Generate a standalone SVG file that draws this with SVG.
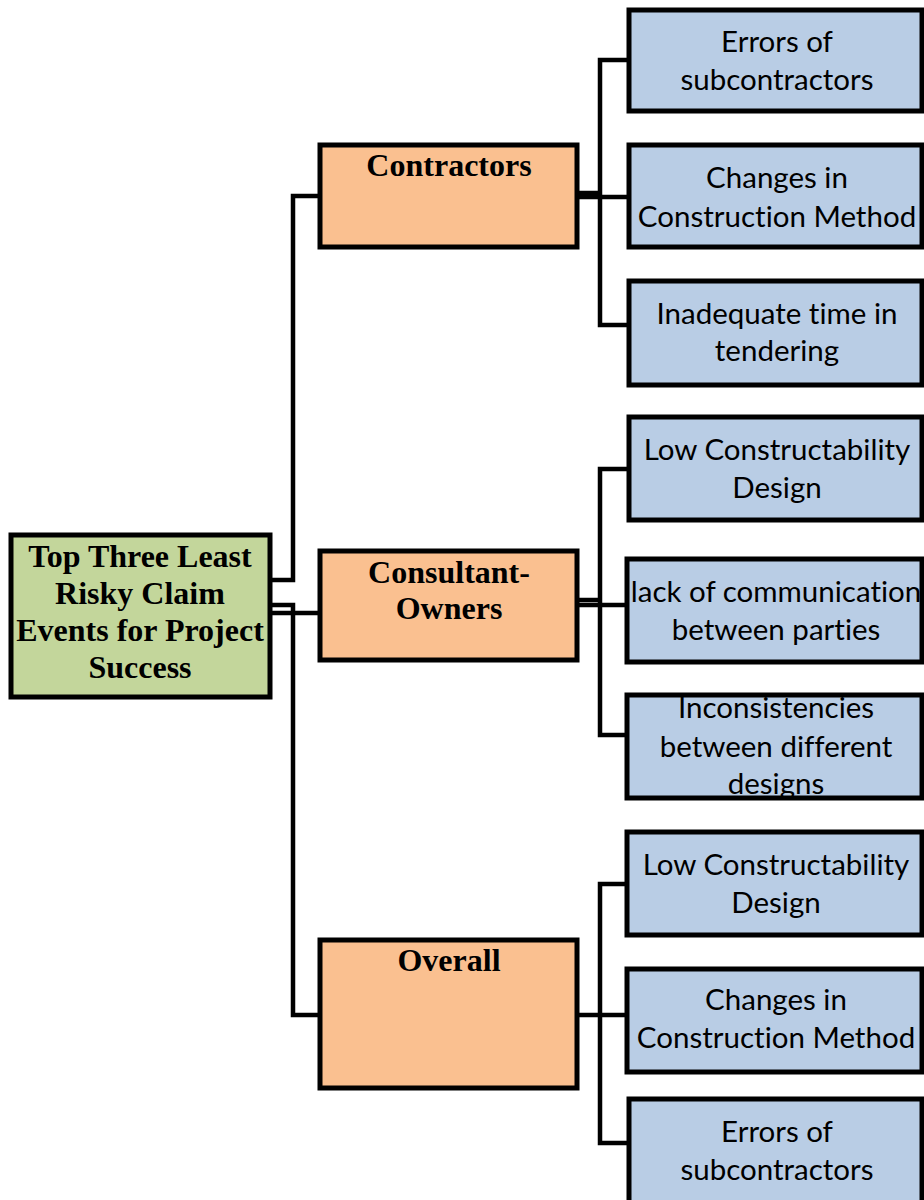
<svg xmlns="http://www.w3.org/2000/svg" width="924" height="1200" viewBox="0 0 924 1200">
  <style>
    .box { stroke: #000; stroke-width: 5; }
    .root { fill: #C3D69B; }
    .group { fill: #FAC090; }
    .leaf { fill: #B9CDE5; }
    .head { font-family: "Liberation Serif", "Times New Roman", serif; font-weight: bold; font-size: 32px; fill: #000; text-anchor: middle; }
    .item { font-family: Lato, "Liberation Sans", sans-serif; font-size: 29.5px; fill: #000; text-anchor: middle; font-variant-ligatures: none; }
    .wire { fill: none; stroke: #000; stroke-width: 4.5; stroke-linejoin: miter; }
  </style>

  <!-- connectors -->
  <g id="connectors">
    <path class="wire" d="M272,580 H293 V196 H318"/>
    <path class="wire" d="M272,605 H293 V1015 H318"/>
    <path class="wire" d="M272,613 H318"/>

    <path class="wire" d="M627,60 H600 V325 H627"/>
    <path class="wire" d="M579,193 H600"/>
    <path class="wire" d="M579,197 H627"/>

    <path class="wire" d="M627,469 H600 V735 H627"/>
    <path class="wire" d="M579,600 H600"/>
    <path class="wire" d="M579,605 H627"/>

    <path class="wire" d="M627,884 H600 V1143 H627"/>
    <path class="wire" d="M579,1015 H627"/>
  </g>

  <!-- root -->
  <g id="root">
    <rect class="box root" x="11" y="535" width="259" height="162"/>
    <text class="head" x="140" y="567">Top Three Least</text>
    <text class="head" x="140" y="604">Risky Claim</text>
    <text class="head" x="140" y="641">Events for Project</text>
    <text class="head" x="140" y="678">Success</text>
  </g>

  <!-- stakeholder groups -->
  <g id="contractors">
    <rect class="box group" x="320" y="145" width="257" height="102"/>
    <text class="head" x="449" y="176">Contractors</text>
  </g>
  <g id="consultant-owners">
    <rect class="box group" x="320" y="551" width="257" height="109"/>
    <text class="head" x="449" y="583">Consultant-</text>
    <text class="head" x="449" y="619">Owners</text>
  </g>
  <g id="overall">
    <rect class="box group" x="320" y="940" width="257" height="148"/>
    <text class="head" x="449" y="971">Overall</text>
  </g>

  <!-- claim events: contractors -->
  <g id="c-errors">
    <rect class="box leaf" x="629" y="10" width="293" height="101"/>
    <text class="item" x="777" y="52">Errors of</text>
    <text class="item" x="777" y="90">subcontractors</text>
  </g>
  <g id="c-changes">
    <rect class="box leaf" x="629" y="145" width="293" height="102"/>
    <text class="item" x="777" y="188">Changes in</text>
    <text class="item" x="777" y="227">Construction Method</text>
  </g>
  <g id="c-tendering">
    <rect class="box leaf" x="629" y="281" width="293" height="104"/>
    <text class="item" x="777" y="324">Inadequate time in</text>
    <text class="item" x="777" y="361">tendering</text>
  </g>

  <!-- claim events: consultant-owners -->
  <g id="co-constructability">
    <rect class="box leaf" x="629" y="417" width="293" height="103"/>
    <text class="item" x="777" y="460">Low Constructability</text>
    <text class="item" x="777" y="498">Design</text>
  </g>
  <g id="co-communication">
    <rect class="box leaf" x="627" y="559" width="295" height="103"/>
    <text class="item" x="776" y="602">lack of communication</text>
    <text class="item" x="776" y="640">between parties</text>
  </g>
  <g id="co-inconsistencies">
    <rect class="box leaf" x="627" y="695" width="295" height="103"/>
    <text class="item" x="776" y="718">Inconsistencies</text>
    <text class="item" x="776" y="757">between different</text>
    <text class="item" x="776" y="794">designs</text>
  </g>

  <!-- claim events: overall -->
  <g id="o-constructability">
    <rect class="box leaf" x="627" y="832" width="295" height="103"/>
    <text class="item" x="776" y="875">Low Constructability</text>
    <text class="item" x="776" y="913">Design</text>
  </g>
  <g id="o-changes">
    <rect class="box leaf" x="627" y="969" width="295" height="103"/>
    <text class="item" x="776" y="1010">Changes in</text>
    <text class="item" x="776" y="1048">Construction Method</text>
  </g>
  <g id="o-errors">
    <rect class="box leaf" x="629" y="1099" width="293" height="110"/>
    <text class="item" x="777" y="1142">Errors of</text>
    <text class="item" x="777" y="1180">subcontractors</text>
  </g>
</svg>
